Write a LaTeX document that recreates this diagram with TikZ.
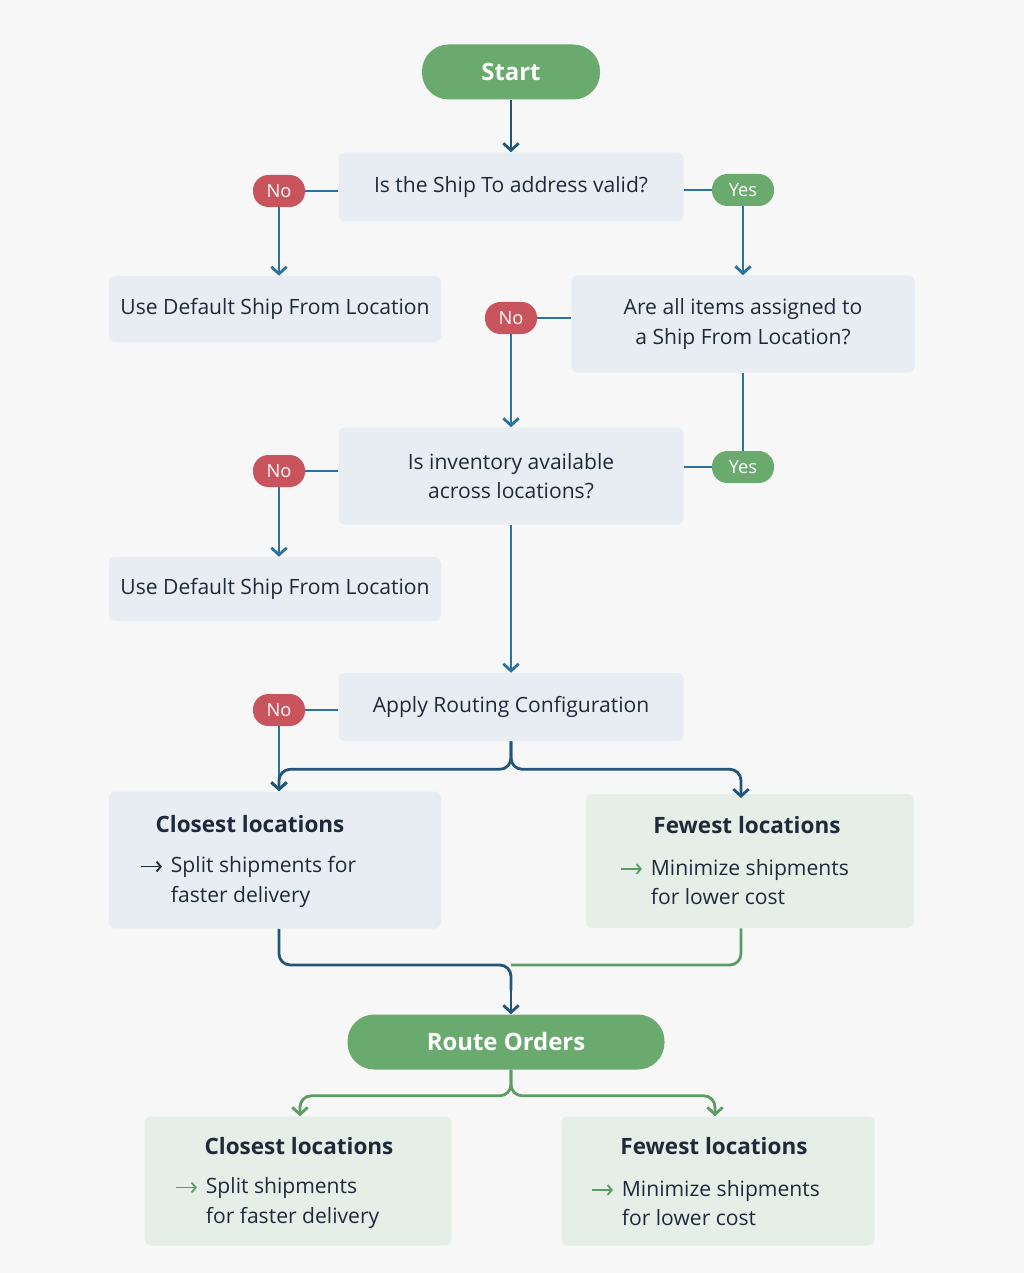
\documentclass[tikz,border=0pt]{standalone}
\usepackage{fontspec}
\setmainfont{Open Sans}
\usepackage{xcolor}
\usetikzlibrary{positioning,arrows.meta}
\definecolor{bgc}{HTML}{F7F7F7}
\definecolor{boxb}{HTML}{E8EDF4}
\definecolor{boxg}{HTML}{E5EFE7}
\definecolor{okg}{HTML}{6BAA6E}
\definecolor{nor}{HTML}{C9545E}
\definecolor{lnb}{HTML}{21557A}
\definecolor{lnl}{HTML}{2C72A0}
\definecolor{lng}{HTML}{5A9C62}
\definecolor{txt}{HTML}{1E2A3A}
\newcommand{\tip}[1]{\makebox[22pt][l]{\tikz[baseline=-0.55ex]\draw[#1, line width=1.3pt, -{Straight Barb[length=3pt,width=7pt]}] (0,0) -- (15pt,0);}}
\begin{document}
\begin{tikzpicture}[x=0.025cm, y=-0.025cm,
  font=\fontsize{15}{21}\selectfont, text=txt,
  box/.style={fill=boxb, rounded corners=4pt, align=center, inner sep=0pt},
  pill/.style={fill=okg, rounded corners=19pt, text=white, font=\fontsize{17}{20}\selectfont\bfseries, inner sep=0pt},
  no/.style={fill=nor, rounded corners=11pt, text=white, inner sep=0pt, minimum width=52*0.025cm, minimum height=32*0.025cm, font=\fontsize{13}{15}\selectfont},
  yes/.style={no, fill=okg, minimum width=62*0.025cm},
  ln/.style={lnl, line width=2pt},
  arr/.style={ln, -{Straight Barb[length=5pt,width=11pt]}}]
\fill[bgc] (0,0) rectangle (1024,1273);

\node[pill, minimum width=178*0.025cm, minimum height=55*0.025cm] (start) at (511,72) {Start};
\node[box, minimum width=345*0.025cm, minimum height=69*0.025cm] (addr) at (511,187) {Is the Ship To address valid?};
\node[no] (no1) at (279,191) {No};
\node[yes] (yes1) at (743,190) {Yes};
\node[box, minimum width=332*0.025cm, minimum height=66*0.025cm] (dflt1) at (275,309) {Use Default Ship From Location};
\node[box, minimum width=343*0.025cm, minimum height=97*0.025cm] (assig) at (743,324) {Are all items assigned to\\a Ship From Location?};
\node[no] (no2) at (511,318) {No};
\node[box, minimum width=345*0.025cm, minimum height=97*0.025cm] (inv) at (511,476) {Is inventory available\\across locations?};
\node[yes] (yes2) at (743,467) {Yes};
\node[no] (no3) at (279,471) {No};
\node[box, minimum width=332*0.025cm, minimum height=64*0.025cm] (dflt2) at (275,589) {Use Default Ship From Location};
\node[box, minimum width=345*0.025cm, minimum height=68*0.025cm] (apply) at (511,707) {Apply Routing Configuration};
\node[no] (no4) at (279,710) {No};

\node[box, minimum width=332*0.025cm, minimum height=137*0.025cm] (close1) at (275,860) {};
\node[font=\fontsize{16}{20}\selectfont\bfseries] at (250,824) {Closest locations};
\node[anchor=west, align=left] at (135,882) {\tip{txt}Split shipments for\\\hspace{22pt}faster delivery};
\node[box, fill=boxg, minimum width=328*0.025cm, minimum height=134*0.025cm] (few1) at (750,861) {};
\node[font=\fontsize{16}{20}\selectfont\bfseries] at (747,825) {Fewest locations};
\node[anchor=west, align=left] at (615,882) {\tip{lng}Minimize shipments\\\hspace{22pt}for lower cost};

\node[pill, minimum width=317*0.025cm, minimum height=55*0.025cm] (route) at (506,1042) {Route Orders};

\node[box, fill=boxg, minimum width=307*0.025cm, minimum height=129*0.025cm] (close2) at (298,1181) {};
\node[font=\fontsize{16}{20}\selectfont\bfseries] at (299,1146) {Closest locations};
\node[anchor=west, align=left] at (170,1203) {\tip{lng}Split shipments\\\hspace{22pt}for faster delivery};
\node[box, fill=boxg, minimum width=313*0.025cm, minimum height=129*0.025cm] (few2) at (718,1181) {};
\node[font=\fontsize{16}{20}\selectfont\bfseries] at (714,1146) {Fewest locations};
\node[anchor=west, align=left] at (586,1203) {\tip{lng}Minimize shipments\\\hspace{22pt}for lower cost};

% connectors
\draw[arr, lnb] (start) -- (addr);
\draw[ln] (addr.west |- no1) -- (no1);
\draw[arr] (no1) -- (dflt1.north -| no1);
\draw[ln] (addr.east |- yes1) -- (yes1);
\draw[arr] (yes1) -- (assig.north -| yes1);
\draw[ln] (assig.west |- no2) -- (no2);
\draw[arr] (no2) -- (inv.north -| no2);
\draw[ln] (assig.south -| yes2) -- (yes2);
\draw[ln] (yes2) -- (inv.east |- yes2);
\draw[ln] (inv.west |- no3) -- (no3);
\draw[arr] (no3) -- (dflt2.north -| no3);
\draw[arr] (inv) -- (apply);
\draw[ln] (apply.west |- no4) -- (no4);
\draw[arr] (no4) -- (close1.north -| no4);
\draw[arr, lnb, rounded corners=8pt] (apply.south) -- ++(0,28) -| (close1.north -| no4);
\draw[arr, lnb, rounded corners=8pt] (apply.south) -- ++(0,28) -| (741,798);
\draw[ln, lnb, rounded corners=8pt] (close1.south -| no4) |- (511,965) -- (511,990);
\draw[ln, lng, rounded corners=8pt] (few1.south -| 741,0) |- (511,965);
\draw[arr, lnb] (511,985) -- (route.north -| 511,0);
\draw[arr, lng, rounded corners=8pt] (route.south -| 511,0) -- ++(0,26) -| (close2.north -| 300,0);
\draw[arr, lng, rounded corners=8pt] (route.south -| 511,0) -- ++(0,26) -| (few2.north -| 715,0);
\end{tikzpicture}
\end{document}
